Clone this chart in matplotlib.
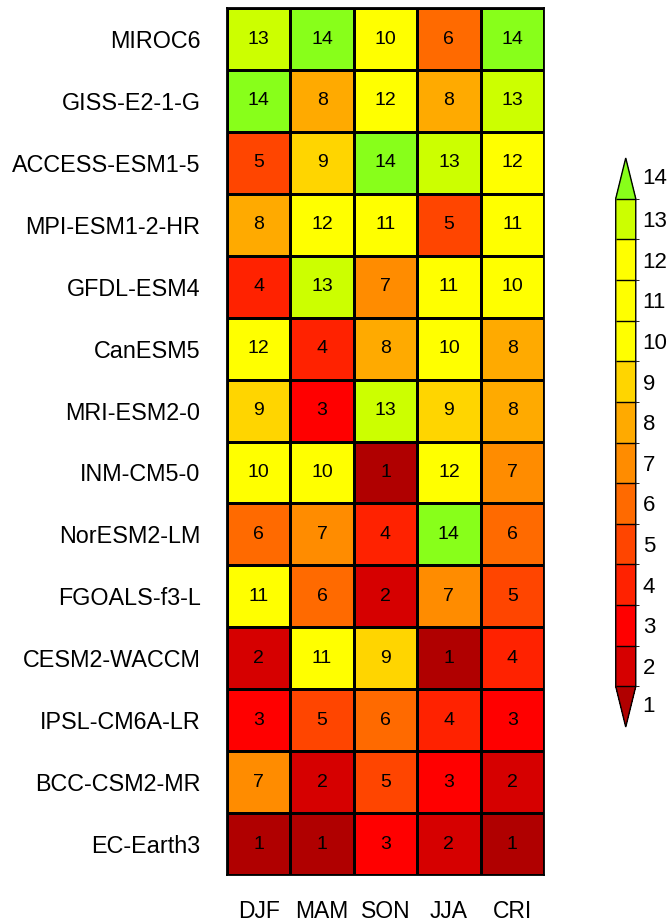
import numpy as np
import matplotlib
matplotlib.use("Agg")
import matplotlib.pyplot as plt
from matplotlib.colors import ListedColormap, BoundaryNorm

plt.rcParams['font.family'] = ['Liberation Sans', 'DejaVu Sans']

models = ["MIROC6", "GISS-E2-1-G", "ACCESS-ESM1-5", "MPI-ESM1-2-HR", "GFDL-ESM4",
          "CanESM5", "MRI-ESM2-0", "INM-CM5-0", "NorESM2-LM", "FGOALS-f3-L",
          "CESM2-WACCM", "IPSL-CM6A-LR", "BCC-CSM2-MR", "EC-Earth3"]
seasons = ["DJF", "MAM", "SON", "JJA", "CRI"]

# rank per model (rows) and season (columns)
ranks = np.array([
    [13, 14, 10, 6, 14],
    [14, 8, 12, 8, 13],
    [5, 9, 14, 13, 12],
    [8, 12, 11, 5, 11],
    [4, 13, 7, 11, 10],
    [12, 4, 8, 10, 8],
    [9, 3, 13, 9, 8],
    [10, 10, 1, 12, 7],
    [6, 7, 4, 14, 6],
    [11, 6, 2, 7, 5],
    [2, 11, 9, 1, 4],
    [3, 5, 6, 4, 3],
    [7, 2, 5, 3, 2],
    [1, 1, 3, 2, 1],
])

rank_levels = list(range(1, 15))
rank_colors = ["#B00000", "#D60000", "#FF0000", "#FF2200", "#FF4500", "#FF6A00",
               "#FF8C00", "#FFAA00", "#FFD500", "#FFFF00", "#FFFF00", "#FFFF00",
               "#CCFF00", "#88FF1A"]

cmap = ListedColormap(rank_colors[1:-1])
cmap.set_under(rank_colors[0])
cmap.set_over(rank_colors[-1])
bounds = np.arange(1.5, 14.5, 1.0)
norm = BoundaryNorm(bounds, cmap.N)

fig = plt.figure(figsize=(6.7, 9.24), dpi=100)
ax = fig.add_axes([0.3388, 0.0530, 0.4731, 0.9383])

nrow, ncol = ranks.shape
ax.pcolormesh(np.arange(ncol + 1), np.arange(nrow + 1), ranks[::-1], cmap=cmap, norm=norm,
              edgecolors="black", linewidth=1.0)
for i in range(nrow):
    for j in range(ncol):
        ax.text(j + 0.5, nrow - i - 0.5, str(ranks[i, j]), ha="center", va="center",
                fontsize=14)

ax.set_xlim(0, ncol)
ax.set_ylim(0, nrow)
ax.set_xticks(np.arange(ncol) + 0.5)
ax.set_xticklabels(seasons, fontsize=16.5)
ax.set_yticks(np.arange(nrow) + 0.5)
ax.set_yticklabels(models[::-1], fontsize=16.8)
ax.tick_params(length=0, pad=19)
ax.tick_params(axis="x", pad=18)
for s in ax.spines.values():
    s.set_linewidth(1.3)

# colorbar axes spans triangle tip to triangle tip
cax = fig.add_axes([0.919, 0.2132, 0.0299, 0.6158])
sm = matplotlib.cm.ScalarMappable(norm=norm, cmap=cmap)
cb = fig.colorbar(sm, cax=cax, extend="both", extendfrac="auto", drawedges=True,
                  ticks=rank_levels[1:-1])
cb.outline.set_linewidth(1.0)
cb.dividers.set_linewidth(1.0)
cax.tick_params(length=0, labelsize=16, pad=5)

# end labels sit beside the triangles
xoff = 1.0 + 5 / 72 * 100 / (0.0299 * 670)
cax.text(xoff, 1 + 0.5 / 12, str(rank_levels[-1]), transform=cax.transAxes,
         ha="left", va="center", fontsize=16)
cax.text(xoff, -0.5 / 12, str(rank_levels[0]), transform=cax.transAxes,
         ha="left", va="center", fontsize=16)

fig.savefig("out.png", dpi=100)
